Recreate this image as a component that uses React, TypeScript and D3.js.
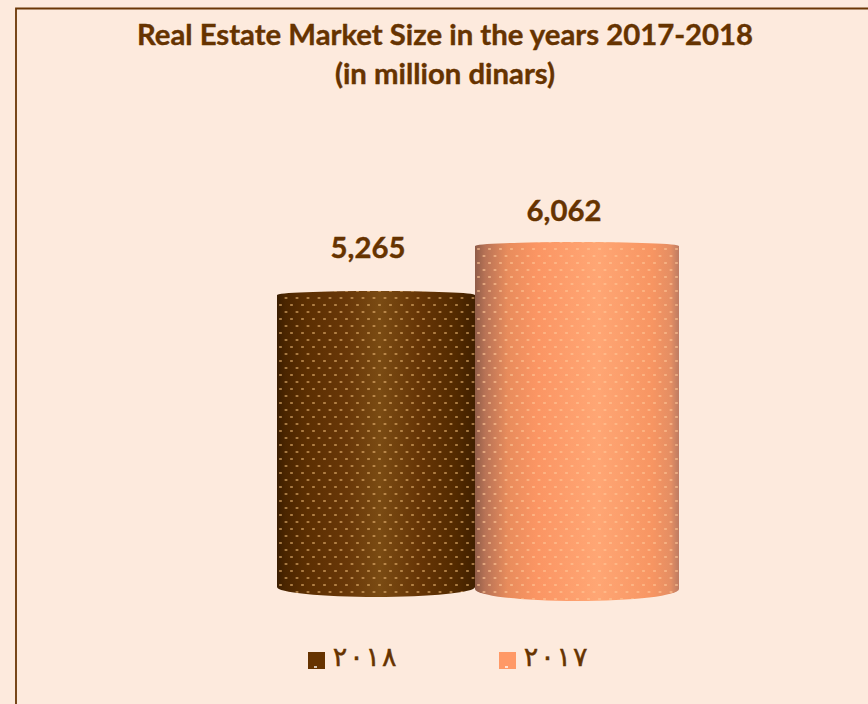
import * as d3 from 'd3'

const titleLines = ['Real Estate Market Size in the years 2017-2018', '(in million dinars)']
const years = ['2018', '2017']
const values = [5265, 6062]
const legendLabels = ['٢٠١٨', '٢٠١٧']
const colors = ['#663300', '#FF9966']

const width = 868
const height = 704
const ink = '#663300'
const background = '#FDEADD'

// the cylinders sit in perspective, so the bars are not quite the same width
const edgeX = d3.scaleLinear().domain([0, 1, 2]).range([277, 475, 679])
const y = d3.scaleLinear().domain([5265, 6062]).range([295, 246])
const baseY = [587, 589]
const topRy = 4
const bottomRy = [10, 12]
const labelX = [368, 564]
const labelY = [258, 221]
const legendX = [308, 499]
const digitStep = 16.4

const shades = [
  [
    [0, '#3a1d00'],
    [0.04, '#4a2500'],
    [0.15, '#5c2f02'],
    [0.35, '#683708'],
    [0.52, '#7a4b13'],
    [0.72, '#663506'],
    [0.9, '#532a00'],
    [1, '#402000'],
  ],
  [
    [0, '#8f5c48'],
    [0.05, '#b87356'],
    [0.16, '#e88c5c'],
    [0.3, '#fb9563'],
    [0.6, '#ffa674'],
    [0.87, '#f79562'],
    [0.96, '#e48e63'],
    [1, '#bd7c63'],
  ],
]
const dotColors = ['#e0ae6c', '#ffc494']

function cylinder(i: number) {
  const left = edgeX(i)
  const right = edgeX(i + 1)
  const rx = (right - left) / 2
  const top = y(values[i])
  return `M${left},${top}A${rx},${topRy} 0 0 1 ${right},${top}V${baseY[i]}A${rx},${bottomRy[i]} 0 0 1 ${left},${baseY[i]}Z`
}

export default function App() {
  return (
    <svg
      width={width}
      height={height}
      style={{ position: 'absolute', left: 0, top: 0, display: 'block', fontFamily: 'Lato, sans-serif' }}
    >
      <defs>
        {years.map((year, i) => (
          <linearGradient key={year} id={`shade-${year}`} x1="0" x2="1" y1="0" y2="0">
            {shades[i].map(([offset, color]) => (
              <stop key={offset} offset={offset} stopColor={color as string} />
            ))}
          </linearGradient>
        ))}
        {years.map((year, i) => (
          <pattern key={year} id={`dots-${year}`} width="11" height="14" patternUnits="userSpaceOnUse" x={edgeX(i)} y="246">
            <rect x="2" y="2" width="3" height="2" rx="0.8" fill={dotColors[i]} opacity="0.62" />
            <rect x="7.5" y="9" width="3" height="2" rx="0.8" fill={dotColors[i]} opacity="0.62" />
          </pattern>
        ))}
      </defs>

      <rect width={width} height={height} fill={background} />
      <path d={`M16,${height}V8.5H${width}`} fill="none" stroke="#6b3706" strokeWidth={1.8} />

      <text
        textAnchor="middle"
        fill={ink}
        stroke={ink}
        strokeWidth={0.4}
        fontWeight={700}
        fontSize={29.3}
      >
        {titleLines.map((line, i) => (
          <tspan key={line} x={445} y={45 + i * 39}>
            {line}
          </tspan>
        ))}
      </text>

      {years.map((year, i) => (
        <g key={year}>
          <path d={cylinder(i)} fill={`url(#shade-${year})`} />
          <path d={cylinder(i)} fill={`url(#dots-${year})`} />
        </g>
      ))}

      {values.map((value, i) => (
        <text
          key={value}
          x={labelX[i]}
          y={labelY[i]}
          textAnchor="middle"
          fill={ink}
          stroke={ink}
          strokeWidth={0.4}
          fontWeight={700}
          fontSize={29.3}
        >
          {d3.format(',')(value)}
        </text>
      ))}

      {years.map((year, i) => (
        <g key={year}>
          <rect x={legendX[i]} y={652} width={17} height={17} fill={colors[i]} />
          <rect x={legendX[i] + 6} y={666} width={3} height={2} fill="#fff" opacity={0.7} />
          {/* digits are spaced by hand, letter-spacing does nothing on them */}
          <text
            y={665.5}
            fill={ink}
            stroke={ink}
            strokeWidth={0.5}
            fontSize={27}
            textAnchor="middle"
            style={{ fontFamily: '"DejaVu Sans", sans-serif' }}
          >
            {Array.from(legendLabels[i]).map((digit, k) => (
              <tspan key={k} x={legendX[i] + 32 + k * digitStep}>
                {digit}
              </tspan>
            ))}
          </text>
        </g>
      ))}
    </svg>
  )
}
